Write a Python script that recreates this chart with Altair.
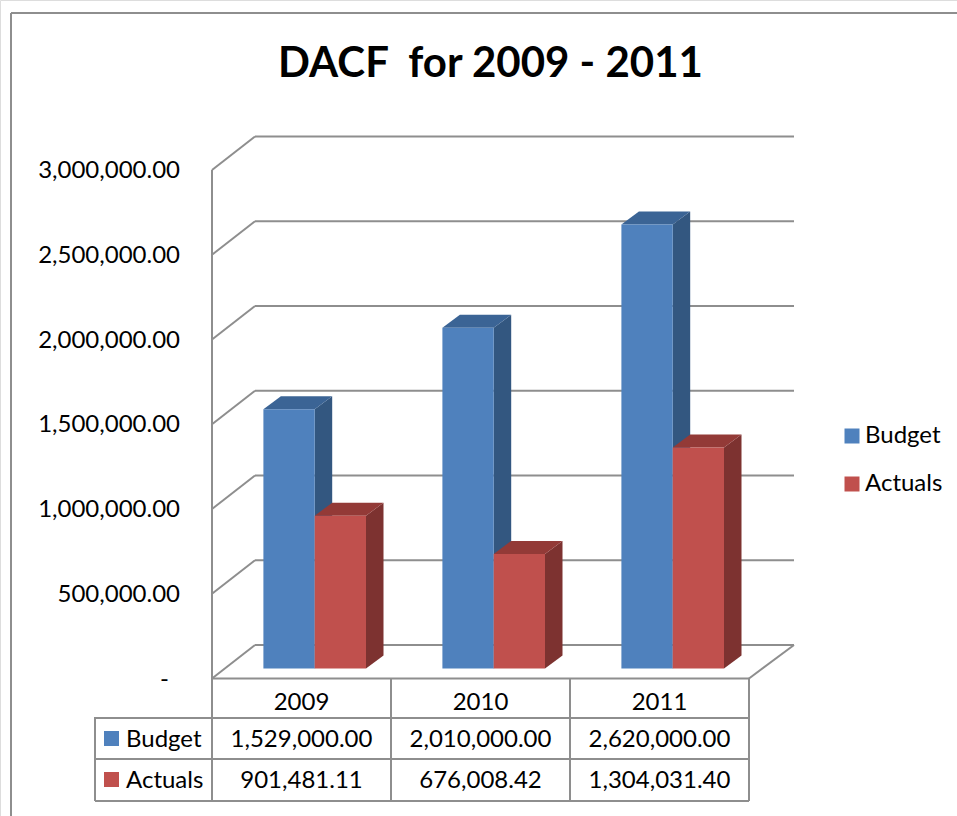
import altair as alt
import pandas as pd

years = ["2009", "2010", "2011"]
series_names = ["Budget", "Actuals"]
budget = [1529000.00, 2010000.00, 2620000.00]
actuals = [901481.11, 676008.42, 1304031.40]
ticks = [0, 500000, 1000000, 1500000, 2000000, 2500000, 3000000]

FONT = "Lato"
INK = "#000000"
GRID = "#8E8E8E"
FACE = {"Budget": "#4F81BD", "Actuals": "#C0504D"}
SIDE = {"Budget": "#335780", "Actuals": "#7D3230"}
TOP = {"Budget": "#3B6495", "Actuals": "#933A37"}

W, H = 957, 816
CAT_PX = 179.0            # pixels per category along the floor
AXIS_X = 212.0            # front-left corner of the floor
BASE_Y = 668.5            # where the bars stand
PX_PER_UNIT = 508.5 / 3000000

def ux(px):
    return px / CAT_PX

def uy(px):
    return px / PX_PER_UNIT

x_scale = alt.Scale(domain=[-ux(AXIS_X), ux(W - AXIS_X)], nice=False, zero=False)
y_scale = alt.Scale(domain=[-uy(H - BASE_Y), uy(BASE_Y)], nice=False, zero=False)
X = lambda f: alt.X(f, type="quantitative", scale=x_scale, axis=None)
Y = lambda f: alt.Y(f, type="quantitative", scale=y_scale, axis=None)

# 3-D projection offsets
FRONT_DROP = uy(10.0)     # front wall edge sits below the bar base
BACK_RISE = uy(23.5)      # back wall sits above the bar base
WALL_DX = ux(43.0)
FLOOR_DX = ux(45.0)
BAR_DX = ux(17.5)
BAR_DY = uy(13.0)
BAR_W = ux(51.3)
BAR_START = ux(51.4)

bars = pd.DataFrame(
    [
        {"year": y, "series": s, "value": v,
         "x0": i + BAR_START + j * BAR_W, "x1": i + BAR_START + (j + 1) * BAR_W, "base": 0}
        for j, (s, vals) in enumerate(zip(series_names, [budget, actuals]))
        for i, (y, v) in enumerate(zip(years, vals))
    ]
)

# Side and top faces are parallelograms built on the front face of each bar
side_rows, top_rows = [], []
for r in bars.itertuples():
    key = f"{r.year}-{r.series}"
    side_rows += [
        {"key": key, "series": r.series, "x": r.x1, "lo": 0, "hi": r.value},
        {"key": key, "series": r.series, "x": r.x1 + BAR_DX, "lo": BAR_DY, "hi": r.value + BAR_DY},
    ]
    top_rows += [
        {"key": key, "series": r.series, "y": r.value, "a": r.x0, "b": r.x1},
        {"key": key, "series": r.series, "y": r.value + BAR_DY, "a": r.x0 + BAR_DX, "b": r.x1 + BAR_DX},
    ]
sides = pd.DataFrame(side_rows)
tops = pd.DataFrame(top_rows)

layers = []

# Chart frame
line = dict(color=GRID, strokeWidth=2)
layers.append(alt.Chart().mark_rule(**line).encode(
    x=alt.value(11), x2=alt.value(W), y=alt.value(13)))
layers.append(alt.Chart().mark_rule(**line).encode(
    x=alt.value(11), y=alt.value(13), y2=alt.value(H)))

# Back wall gridlines and their slanted returns on the left wall
wall = pd.DataFrame({"tick": ticks})
wall["front"] = wall["tick"] - FRONT_DROP
wall["back"] = wall["tick"] + BACK_RISE
wall["x0"] = 0.0
wall["xb"] = WALL_DX
wall["xe"] = 3 + FLOOR_DX
layers.append(alt.Chart(wall).mark_rule(**line).encode(
    x=X("xb"), x2="xe", y=Y("back"), y2="back"))
layers.append(alt.Chart(wall).mark_rule(**line).encode(
    x=X("x0"), x2="xb", y=Y("front"), y2="back"))

# Front of the left wall, floor edges
floor = pd.DataFrame({
    "x": [0.0, 3.0], "x2": [3.0, 3 + FLOOR_DX],
    "y": [-FRONT_DROP, -FRONT_DROP], "y2": [-FRONT_DROP, BACK_RISE],
})
layers.append(alt.Chart(floor).mark_rule(**line).encode(
    x=X("x"), x2="x2", y=Y("y"), y2="y2"))

# Data table grid
edges = pd.DataFrame({"edge": [0, 1, 2, 3]})
layers.append(alt.Chart(edges).mark_rule(**line).encode(
    x=X("edge"), y=alt.value(678), y2=alt.value(801)))
layers.append(alt.Chart(wall[wall.tick == 3000000]).mark_rule(**line).encode(
    x=X("x0"), y=Y("front"), y2=alt.value(678)))
layers.append(alt.Chart().mark_rule(**line).encode(
    x=alt.value(95), y=alt.value(717), y2=alt.value(801)))
for row_y in [718, 759, 801]:
    layers.append(alt.Chart().mark_rule(**line).encode(
        x=alt.value(95), x2=alt.value(AXIS_X + 3 * CAT_PX), y=alt.value(row_y)))

# Bars: hidden faces first, then the front faces
for s in series_names:
    layers.append(alt.Chart(sides[sides.series == s]).mark_area(color=SIDE[s], opacity=1).encode(
        x=X("x"), y=Y("lo"), y2="hi", detail="key:N"))
    layers.append(alt.Chart(tops[tops.series == s]).mark_area(color=TOP[s], opacity=1, orient="horizontal").encode(
        y=Y("y"), x=X("a"), x2="b", detail="key:N"))

layers.append(alt.Chart(bars).mark_rect(opacity=1).encode(
    x=X("x0"), x2="x1", y=Y("base"), y2="value",
    color=alt.Color(
        "series:N",
        scale=alt.Scale(domain=series_names, range=[FACE[s] for s in series_names]),
        legend=alt.Legend(
            title=None, orient="none", legendX=840, legendY=424,
            symbolType="square", symbolSize=225, symbolStrokeWidth=0, symbolOpacity=1,
            labelFont=FONT, labelFontSize=24, labelColor=INK, labelOffset=1,
            rowPadding=24, labelLimit=200,
        ),
    ),
))

# Value axis labels
def tick_text(t):
    return "-" if t == 0 else f"{t:,.2f}"

wall["label"] = [tick_text(t) for t in ticks]
text = dict(font=FONT, fontSize=24, color=INK, baseline="middle", dy=1)
layers.append(alt.Chart(wall[wall.tick > 0]).mark_text(align="right", **text).encode(
    x=alt.value(180), y=Y("front"), text="label:N"))
layers.append(alt.Chart(wall[wall.tick == 0]).mark_text(align="right", **text).encode(
    x=alt.value(169), y=Y("front"), text="label:N"))

# Data table contents
head = pd.DataFrame({"year": years, "pos": [i + 0.5 for i in range(3)]})
layers.append(alt.Chart(head).mark_text(align="center", **text).encode(
    x=X("pos"), y=alt.value(702), text="year:N"))
for s, vals, row_y in zip(series_names, [budget, actuals], [738.5, 779.5]):
    cells = pd.DataFrame({"pos": head["pos"], "txt": [f"{v:,.2f}" for v in vals]})
    layers.append(alt.Chart(cells).mark_text(align="center", **text).encode(
        x=X("pos"), y=alt.value(row_y), text="txt:N"))
    layers.append(alt.Chart(pd.DataFrame({"name": [s]})).mark_text(align="left", **text).encode(
        x=alt.value(126), y=alt.value(row_y), text="name:N"))
    layers.append(alt.Chart().mark_square(size=225, color=FACE[s], opacity=1).encode(
        x=alt.value(111.5), y=alt.value(row_y)))

chart = alt.layer(*layers).properties(
    width=W, height=H,
    autosize=alt.AutoSizeParams(type="none"),
    padding=0,
    title=alt.TitleParams(
        "DACF\u00a0 for 2009 - 2011", font=FONT, fontSize=42, fontWeight="bold",
        color=INK, anchor="middle", dx=12, dy=90,
    ),
).configure_view(stroke=None).configure(background="white")

chart.save("out.html", embed_options={"renderer": "svg", "actions": False})
